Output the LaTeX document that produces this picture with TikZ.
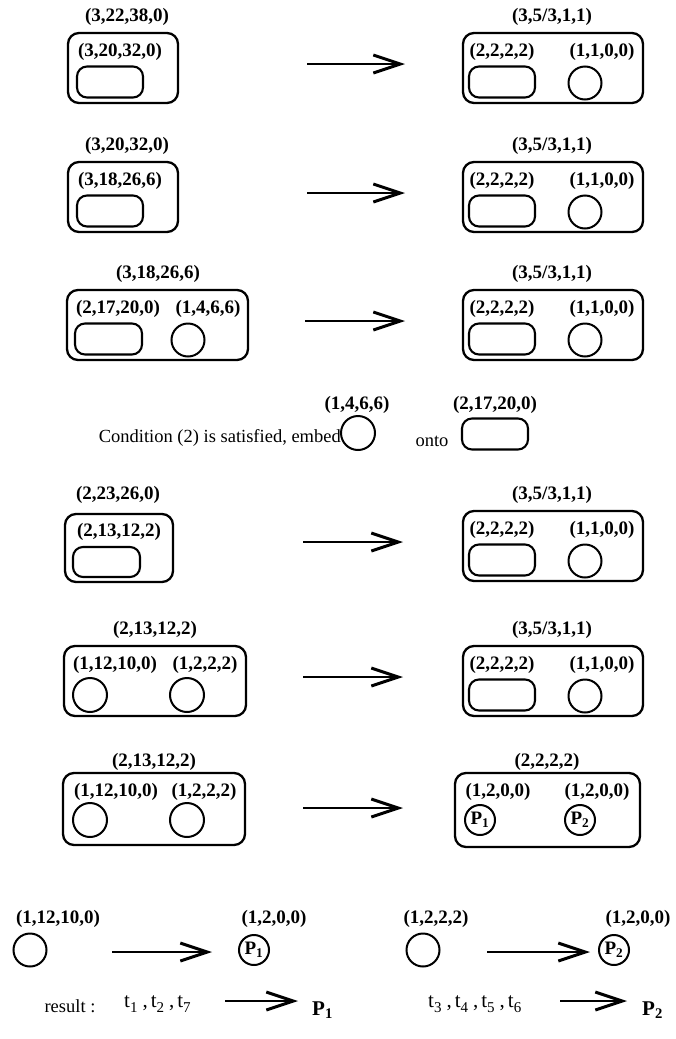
\documentclass[tikz,border=0pt]{standalone}
\usepackage{fontspec}
\setmainfont{Liberation Serif}
\usetikzlibrary{arrows.meta}
\newcommand{\tupfont}{\fontsize{19}{22}\selectfont\bfseries}
\newcommand{\plainfont}{\fontsize{18.5}{22}\selectfont}
\newcommand{\resfont}{\fontsize{21}{24}\selectfont}
% task symbol t_i with a lowered index
\newcommand{\tsym}[1]{t\raisebox{-5pt}{\fontsize{15}{15}\selectfont #1}}

% right-hand group (3,5/3,1,1) drawn with its top label at height #1
\newcommand{\goodside}[2]{%
  \node[tup] (rt#2) at (552,#1) {(3,5/3,1,1)};
  \node[box, minimum width=180pt, minimum height=70pt] (rb#2) at (553,{#1+51}) {};
  \node[tup] (ra#2) at (502,{#1+35}) {(2,2,2,2)};
  \node[tup] (rc#2) at (602,{#1+35}) {(1,1,0,0)};
  \node[sub] (rs#2) at (502,{#1+65}) {};
  \node[ring] (rr#2) at (585,{#1+66}) {};
}

\begin{document}
\begin{tikzpicture}[x=1pt,y=-1pt,
  box/.style={draw, line width=2.3pt, rounded corners=11pt, inner sep=0pt},
  sub/.style={draw, line width=2.1pt, rounded corners=10pt, minimum width=66pt, minimum height=31pt, inner sep=0pt},
  ring/.style={draw, circle, line width=2pt, minimum size=33pt, inner sep=0pt},
  pring/.style={draw, circle, line width=2pt, minimum size=30pt, inner sep=0pt, font=\tupfont},
  tup/.style={font=\tupfont, inner sep=0pt},
  txt/.style={font=\plainfont, inner sep=0pt},
  flow/.style={line width=2.8pt, -{Straight Barb[length=27pt,width=18pt,line width=3pt]}}]
\useasboundingbox (0,0) rectangle (675,1039);

% ---- row 1
\node[tup] (lt1) at (127,17) {(3,22,38,0)};
\node[box, minimum width=110pt, minimum height=70pt] (lb1) at (123,68) {};
\node[tup] (la1) at (120,52) {(3,20,32,0)};
\node[sub] (ls1) at (110,82) {};
\goodside{17}{a}
\coordinate (f1s) at (307,64); \coordinate (f1e) at (405,64);
\draw[flow] (f1s) -- (f1e);

% ---- row 2
\node[tup] (lt2) at (127,146) {(3,20,32,0)};
\node[box, minimum width=110pt, minimum height=70pt] (lb2) at (123,197) {};
\node[tup] (la2) at (120,181) {(3,18,26,6)};
\node[sub] (ls2) at (110,211) {};
\goodside{146}{b}
\coordinate (f2s) at (307,193); \coordinate (f2e) at (405,193);
\draw[flow] (f2s) -- (f2e);

% ---- row 3
\node[tup] (lt3) at (158,274) {(3,18,26,6)};
\node[box, minimum width=181pt, minimum height=70pt] (lb3) at (157.5,325) {};
\node[tup] (la3) at (118,309) {(2,17,20,0)};
\node[tup] (lc3) at (208,309) {(1,4,6,6)};
\node[sub, minimum width=67pt] (ls3) at (108.5,339) {};
\node[ring] (lr3) at (188,340) {};
\goodside{274}{c}
\coordinate (f3s) at (305,321); \coordinate (f3e) at (405,321);
\draw[flow] (f3s) -- (f3e);

% ---- embedding step
\node[txt, anchor=east] (cond) at (341,438) {Condition (2) is satisfied, embed};
\node[ring, minimum size=34pt] (er) at (358,433) {};
\node[tup] (et) at (357,405) {(1,4,6,6)};
\node[txt] (onto) at (432,441) {onto};
\node[sub] (es) at (495,434) {};
\node[tup] (eu) at (495,405) {(2,17,20,0)};

% ---- row 4
\node[tup] (lt4) at (118,495) {(2,23,26,0)};
\node[box, minimum width=108pt, minimum height=68pt] (lb4) at (119,548) {};
\node[tup] (la4) at (119,532) {(2,13,12,2)};
\node[sub, minimum width=67pt, minimum height=30pt] (ls4) at (106.5,562) {};
\goodside{495}{d}
\coordinate (f4s) at (303,542); \coordinate (f4e) at (403,542);
\draw[flow] (f4s) -- (f4e);

% ---- row 5
\node[tup] (lt5) at (155,630) {(2,13,12,2)};
\node[box, minimum width=182pt, minimum height=70pt] (lb5) at (155,681) {};
\node[tup] (la5) at (115,665) {(1,12,10,0)};
\node[tup] (lc5) at (205,665) {(1,2,2,2)};
\node[ring, minimum size=34pt] (lr5) at (90,695) {};
\node[ring, minimum size=34pt] (lq5) at (187,695) {};
\goodside{630}{e}
\coordinate (f5s) at (303,677); \coordinate (f5e) at (403,677);
\draw[flow] (f5s) -- (f5e);

% ---- row 6
\node[tup] (lt6) at (154,762) {(2,13,12,2)};
\node[box, minimum width=182pt, minimum height=72pt] (lb6) at (154,809) {};
\node[tup] (la6) at (116,792) {(1,12,10,0)};
\node[tup] (lc6) at (204,792) {(1,2,2,2)};
\node[ring, minimum size=34pt] (lr6) at (90,820) {};
\node[ring, minimum size=34pt] (lq6) at (187,820) {};
\node[tup] (rt6) at (547,762) {(2,2,2,2)};
\node[box, minimum width=185pt, minimum height=74pt] (rb6) at (547.5,810) {};
\node[tup] (ra6) at (498,792) {(1,2,0,0)};
\node[tup] (rc6) at (597,792) {(1,2,0,0)};
\node[pring] (rp6) at (480,820) {P\textsubscript{1}};
\node[pring] (rq6) at (580,820) {P\textsubscript{2}};
\coordinate (f6s) at (303,808); \coordinate (f6e) at (403,808);
\draw[flow] (f6s) -- (f6e);

% ---- single processors
\node[tup] (bt1) at (58,919) {(1,12,10,0)};
\node[ring] (bc1) at (30,950) {};
\node[tup] (bt2) at (274,919) {(1,2,0,0)};
\node[pring] (bp1) at (254,950) {P\textsubscript{1}};
\coordinate (g1s) at (112,952); \coordinate (g1e) at (212,952);
\draw[flow] (g1s) -- (g1e);
\node[tup] (bt3) at (436,919) {(1,2,2,2)};
\node[ring] (bc2) at (423,950) {};
\node[tup] (bt4) at (638,919) {(1,2,0,0)};
\node[pring] (bp2) at (614,950) {P\textsubscript{2}};
\coordinate (g2s) at (487,952); \coordinate (g2e) at (590,952);
\draw[flow] (g2s) -- (g2e);

% ---- result
\node[txt] (res) at (70,1006) {result :};
\node[anchor=west, inner sep=0pt, font=\resfont] (ta) at (124,1004) {\tsym{1}\hspace{5pt},\hspace{3pt}\tsym{2}\hspace{5pt},\hspace{3pt}\tsym{7}};
\node[anchor=west, inner sep=0pt, font=\resfont\bfseries] (pa) at (312,1010) {P\textsubscript{1}};
\coordinate (h1s) at (225,1001); \coordinate (h1e) at (298,1001);
\draw[flow] (h1s) -- (h1e);
\node[anchor=west, inner sep=0pt, font=\resfont] (tb) at (428,1004) {\tsym{3}\hspace{5pt},\hspace{3pt}\tsym{4}\hspace{5pt},\hspace{3pt}\tsym{5}\hspace{5pt},\hspace{3pt}\tsym{6}};
\node[anchor=west, inner sep=0pt, font=\resfont\bfseries] (pb) at (642,1010) {P\textsubscript{2}};
\coordinate (h2s) at (560,1001); \coordinate (h2e) at (627,1001);
\draw[flow] (h2s) -- (h2e);
\end{tikzpicture}
\end{document}
